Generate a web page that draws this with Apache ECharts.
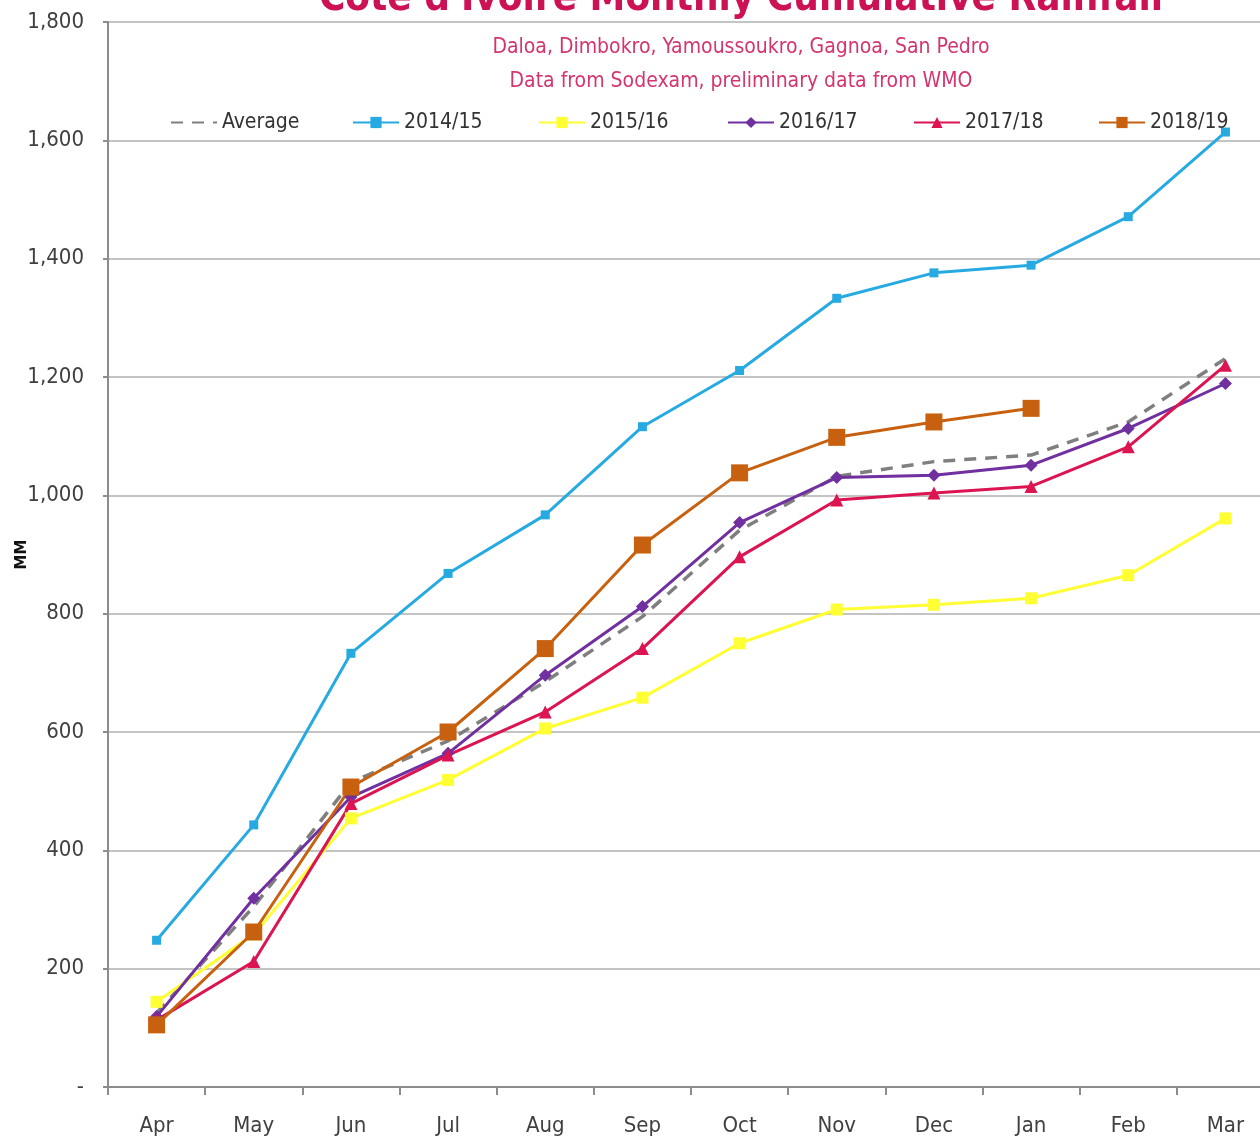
<!DOCTYPE html>
<html>
<head>
<meta charset="utf-8">
<script src="https://cdn.jsdelivr.net/npm/echarts@6/dist/echarts.min.js"></script>
<style>
html,body{margin:0;padding:0;background:#fff;}
#chart{width:1260px;height:1144px;}
</style>
</head>
<body>
<div id="chart"></div>
<script>
const months = ['Apr','May','Jun','Jul','Aug','Sep','Oct','Nov','Dec','Jan','Feb','Mar'];
const yTicks = [0,200,400,600,800,1000,1200,1400,1600,1800];
const average = [125, 305, 515, 585, 685, 795, 941, 1032, 1057, 1068, 1124, 1231];
const s2014 = [248, 443, 733, 868, 967, 1116, 1211, 1333, 1376, 1389, 1471, 1614];
const s2015 = [144, 258, 454, 519, 606, 658, 750, 807, 815, 826, 865, 961];
const s2016 = [119, 319, 490, 564, 696, 812, 954, 1030, 1034, 1051, 1113, 1189];
const s2017 = [113, 212, 479, 561, 634, 741, 896, 992, 1004, 1015, 1082, 1220];
const s2018 = [105, 262, 507, 600, 741, 916, 1038, 1098, 1124, 1147, null, null];
const seriesNames = ['Average','2014/15','2015/16','2016/17','2017/18','2018/19'];
const titleText = "Cote d'Ivoire Monthly Cumulative Rainfall";
const sub1 = 'Daloa, Dimbokro, Yamoussoukro, Gagnoa, San Pedro';
const sub2 = 'Data from Sodexam, preliminary data from WMO';
const yName = 'MM';

const FONT = '"DejaVu Sans Condensed","Liberation Sans Narrow",sans-serif';
const chart = echarts.init(document.getElementById('chart'), null, {renderer:'canvas'});

const legendLeft = [170, 352, 538, 727, 913, 1098];
const legends = seriesNames.map((n, i) => {
  const lg = {
    data: [n],
    left: legendLeft[i],
    top: 112,
    padding: 0,
    itemWidth: 46,
    itemHeight: 14,
    textStyle: {fontFamily: FONT, fontSize: 21, color: '#333'}
  };
  if (i === 0) lg.itemStyle = {opacity: 0};
  return lg;
});

function lineSeries(name, data, color, symbol, size, extra) {
  return Object.assign({
    name: name,
    type: 'line',
    data: data,
    symbol: symbol,
    symbolSize: size,
    connectNulls: false,
    lineStyle: {color: color, width: 3},
    itemStyle: {color: color},
    emphasis: {disabled: true},
    animation: false
  }, extra || {});
}

chart.setOption({
  animation: false,
  backgroundColor: '#ffffff',
  graphic: [
    {type:'text', x:741, y:0, style:{text:titleText, fill:'#cc1155', font:'bold 40px ' + FONT, align:'center', verticalAlign:'middle'}},
    {type:'text', x:741, y:48, style:{text:sub1, fill:'#d4356f', font:'21px ' + FONT, align:'center', verticalAlign:'middle'}},
    {type:'text', x:741, y:82, style:{text:sub2, fill:'#d4356f', font:'21px ' + FONT, align:'center', verticalAlign:'middle'}}
  ],
  legend: legends,
  grid: {left:108, top:22, width:1166, height:1065, containLabel:false, outerBoundsMode:'none'},
  xAxis: {
    type: 'category',
    data: months,
    boundaryGap: true,
    axisLine: {show:true, lineStyle:{color:'#8c8c8c', width:2}},
    axisTick: {show:true, length:8, alignWithLabel:false, lineStyle:{color:'#8c8c8c', width:2}},
    axisLabel: {fontFamily: FONT, fontSize: 22, color:'#404040', margin: 28}
  },
  yAxis: {
    type: 'value',
    min: yTicks[0],
    max: yTicks[yTicks.length-1],
    interval: 200,
    name: yName,
    nameLocation: 'middle',
    nameRotate: 90,
    nameGap: 78,
    nameMoveOverlap: false,
    nameTextStyle: {fontFamily:'"DejaVu Sans",sans-serif', fontWeight:'bold', fontSize:15, color:'#111'},
    axisLine: {show:true, lineStyle:{color:'#8c8c8c', width:2}},
    axisTick: {show:true, inside:false, length:5, lineStyle:{color:'#8c8c8c', width:2}},
    axisLabel: {
      fontFamily: FONT, fontSize: 22, color:'#404040', margin: 24,
      formatter: v => v === 0 ? '-' : v.toLocaleString('en-US')
    },
    splitLine: {show:true, lineStyle:{color:'#c4c4c4', width:2}}
  },
  series: [
    lineSeries('Average', average, '#7f7f7f', 'none', 0, {lineStyle:{color:'#7f7f7f', width:3.5, type:[12,9]}, showSymbol:false}),
    lineSeries('2014/15', s2014, '#27aae1', 'rect', 9),
    lineSeries('2015/16', s2015, '#ffff33', 'rect', 12),
    lineSeries('2016/17', s2016, '#7030a0', 'diamond', 13),
    lineSeries('2017/18', s2017, '#dc1451', 'triangle', 13),
    lineSeries('2018/19', s2018, '#c8610f', 'rect', 17)
  ]
});
</script>
</body>
</html>
